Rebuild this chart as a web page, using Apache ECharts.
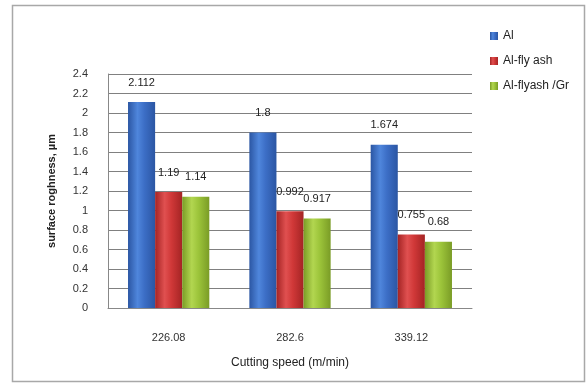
<!DOCTYPE html>
<html>
<head>
<meta charset="utf-8">
<script src="https://cdn.jsdelivr.net/npm/echarts@6/dist/echarts.min.js"></script>
<style>
  html, body { margin: 0; padding: 0; background: #fff; }
  #chart { width: 587px; height: 385px; }
</style>
</head>
<body>
<div id="chart"></div>
<script>
// Cutting speeds (m/min)
const categories = ['226.08', '282.6', '339.12'];
// Surface roughness (µm) per material
const seriesNames = ['Al', 'Al-fly ash', 'Al-flyash /Gr'];
const alValues = [2.112, 1.8, 1.674];
const flyAshValues = [1.19, 0.992, 0.755];
const flyAshGrValues = [1.14, 0.917, 0.68];
const yTicks = [0, 0.2, 0.4, 0.6, 0.8, 1, 1.2, 1.4, 1.6, 1.8, 2, 2.2, 2.4];

// Horizontal gradient gives the bars a rounded, shaded look
function shade(edge, mid, light) {
  return {
    type: 'linear', x: 0, y: 0, x2: 1, y2: 0,
    colorStops: [
      { offset: 0, color: edge },
      { offset: 0.35, color: light },
      { offset: 0.6, color: mid },
      { offset: 1, color: edge }
    ]
  };
}
const palette = [
  shade('#2b56a3', '#3c6ec6', '#4f86dc'),
  shade('#a42424', '#d03838', '#e05050'),
  shade('#7a9c26', '#9cc43a', '#b2d650')
];
const values = [alValues, flyAshValues, flyAshGrValues];

const chart = echarts.init(document.getElementById('chart'));
chart.setOption({
  animation: false,
  backgroundColor: '#fff',
  textStyle: { fontFamily: 'Liberation Sans' },
  graphic: [{
    type: 'rect',
    shape: { x: 12.5, y: 5.5, width: 572, height: 376 },
    style: { fill: 'none', stroke: '#a8a8a8', lineWidth: 1.5 },
    silent: true
  }],
  grid: { left: 108, right: 115, top: 74, bottom: 77 },
  legend: {
    orient: 'vertical',
    left: 485,
    top: 25,
    itemWidth: 8,
    itemHeight: 8,
    itemGap: 13,
    icon: 'rect',
    textStyle: { fontSize: 12, color: '#222', fontFamily: 'Liberation Sans' },
    data: seriesNames
  },
  xAxis: {
    type: 'category',
    data: categories,
    name: 'Cutting speed (m/min)',
    nameLocation: 'middle',
    nameGap: 49,
    nameTextStyle: { fontSize: 12, color: '#222', fontFamily: 'Liberation Sans' },
    axisLine: { lineStyle: { color: '#888', width: 1 } },
    axisTick: { show: false },
    axisLabel: { fontSize: 11, color: '#333', margin: 24 }
  },
  yAxis: {
    type: 'value',
    min: 0,
    max: 2.4,
    interval: 0.2,
    name: 'surface roghness, µm',
    nameLocation: 'middle',
    nameGap: 51,
    nameTextStyle: { fontSize: 11, fontWeight: 'bold', color: '#222' },
    axisLine: { show: true, lineStyle: { color: '#888', width: 1 } },
    axisTick: { show: false },
    axisLabel: {
      fontSize: 11, color: '#333', margin: 20,
      formatter: v => {
        const t = yTicks.find(x => Math.abs(x - v) < 1e-6);
        return String(t !== undefined ? t : +v.toFixed(1));
      }
    },
    splitLine: { lineStyle: { color: '#808080', width: 1 } }
  },
  series: seriesNames.map((name, i) => ({
    name,
    type: 'bar',
    data: values[i],
    barGap: '0%',
    barCategoryGap: '33%',
    itemStyle: { color: palette[i] },
    label: {
      show: true,
      position: 'top',
      distance: 14,
      fontSize: 11,
      color: '#222'
    }
  }))
});
</script>
</body>
</html>
